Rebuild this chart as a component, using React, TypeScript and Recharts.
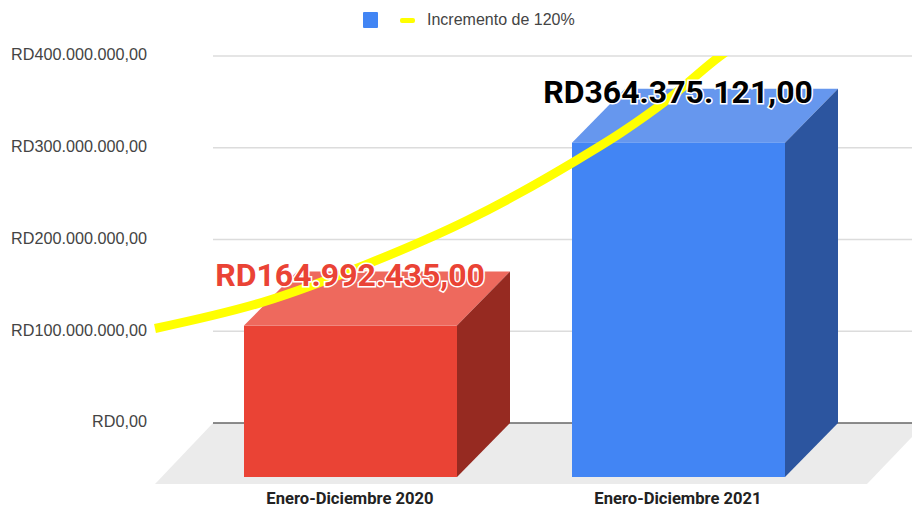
import { ComposedChart, Bar, Line, XAxis, YAxis, CartesianGrid, LabelList } from 'recharts';

const categories = ['Enero-Diciembre 2020', 'Enero-Diciembre 2021'];
const amounts = [164992435, 364375121];
const yTicks = [0, 100000000, 200000000, 300000000, 400000000];

// meses contados desde enero-diciembre 2020
const trendMonths = [-7.13, -3.2, 0.7, 4.3, 6.2, 8.1, 9.9, 11.6, 13.5, 14.1];
const trendValues = [103000000, 131600000, 174000000, 221000000, 250500000, 283000000, 316000000, 352000000, 399000000, 412000000];

const legendLabel = 'Incremento de 120%';

const frontColors = ['#ea4335', '#4285f4'];
const topColors = ['#ee695d', '#6697ee'];
const sideColors = ['#962a21', '#2c559f'];
const labelColors = ['#ea4335', '#000000'];

const DEPTH_X = 53;
const DEPTH_Y = 54;

const fmt = (v: number) =>
  'RD' + v.toLocaleString('de-DE', { minimumFractionDigits: 2, maximumFractionDigits: 2 });

const chartData = categories.map((name, i) => ({ name, amount: amounts[i] }));
const trendData = trendMonths.map((month, i) => ({ month, value: trendValues[i] }));

function Box3D(props: any) {
  const { x, y, width, height, index } = props;
  const top = y + DEPTH_Y;
  return (
    <g>
      <polygon
        points={`${x},${top} ${x + DEPTH_X},${y} ${x + width + DEPTH_X},${y} ${x + width},${top}`}
        fill={topColors[index]}
      />
      <polygon
        points={`${x + width},${top} ${x + width + DEPTH_X},${y} ${x + width + DEPTH_X},${y + height} ${x + width},${top + height}`}
        fill={sideColors[index]}
      />
      <rect x={x} y={top} width={width} height={height} fill={frontColors[index]} />
    </g>
  );
}

function GridRow(props: any) {
  const { x1, x2, y1, index } = props;
  const start = x1 + 58;
  const line = (
    <line x1={start} x2={x2} y1={y1} y2={y1} stroke={y1 > 400 ? '#666666' : '#dcdcdc'} strokeWidth={1.5} />
  );
  if (y1 <= 400) return <g key={index}>{line}</g>;
  // el piso gris sale de la linea del cero
  const floor = y1 + 61;
  return (
    <g key={index}>
      <polygon
        points={`${start},${y1} ${x1},${floor} ${x2 - 45},${floor} ${x2},${y1 + 14} ${x2},${y1}`}
        fill="#ebebeb"
      />
      {line}
    </g>
  );
}

function AmountLabel(props: any) {
  const { x, y, value, index } = props;
  return (
    <text
      x={x}
      y={y + 14}
      textAnchor="middle"
      fontFamily="Roboto"
      fontWeight="bold"
      fontSize={32}
      fill={labelColors[index]}
      stroke="#ffffff"
      strokeWidth={3}
      paintOrder="stroke"
    >
      {fmt(value)}
    </text>
  );
}

export default function App() {
  return (
    <div style={{ position: 'absolute', left: 0, top: 0, width: 912, height: 506, background: '#fff' }}>
      <div
        style={{
          position: 'absolute',
          left: 363,
          top: 12,
          width: 15,
          height: 16,
          background: '#4285f4',
          borderRadius: 1,
        }}
      />
      <div style={{ position: 'absolute', left: 400, top: 18, width: 15, height: 5, background: '#ffff00', borderRadius: 2 }} />
      <div
        style={{
          position: 'absolute',
          left: 427,
          top: 11,
          fontFamily: 'Liberation Sans',
          fontSize: 16,
          lineHeight: '17px',
          color: '#444444',
        }}
      >
        {legendLabel}
      </div>
      <ComposedChart
        width={912}
        height={506}
        data={chartData}
        margin={{ top: 56, right: 0, bottom: 0, left: 0 }}
      >
        <CartesianGrid vertical={false} horizontal={GridRow} />
        <XAxis
          xAxisId="cat"
          dataKey="name"
          height={83}
          padding={{ left: 31, right: 70 }}
          axisLine={false}
          tickLine={false}
          tickSize={0}
          tickMargin={68}
          tick={{ fontFamily: 'Roboto', fontWeight: 'bold', fontSize: 16.6, fill: '#222222', dy: 1 }}
        />
        <XAxis xAxisId="pos" type="number" dataKey="month" domain={[-7.13, 20.56]} hide />
        <YAxis
          width={155}
          domain={[0, 400000000]}
          ticks={yTicks}
          tickFormatter={fmt}
          axisLine={false}
          tickLine={false}
          tickSize={0}
          tickMargin={8}
          tick={{ fontFamily: 'Liberation Sans', fontSize: 16.2, fill: '#444444', dy: -1.5 }}
        />
        <YAxis yAxisId="trend" domain={[0, 400000000]} allowDataOverflow hide />
        <Bar xAxisId="cat" dataKey="amount" barSize={213} shape={Box3D} isAnimationActive={false} />
        <Line
          xAxisId="pos"
          yAxisId="trend"
          data={trendData}
          dataKey="value"
          type="monotone"
          stroke="#ffff00"
          strokeWidth={9}
          dot={false}
          isAnimationActive={false}
        />
        <Line
          xAxisId="cat"
          dataKey="amount"
          stroke="none"
          dot={false}
          isAnimationActive={false}
        >
          <LabelList dataKey="amount" content={AmountLabel} />
        </Line>
      </ComposedChart>
    </div>
  );
}
